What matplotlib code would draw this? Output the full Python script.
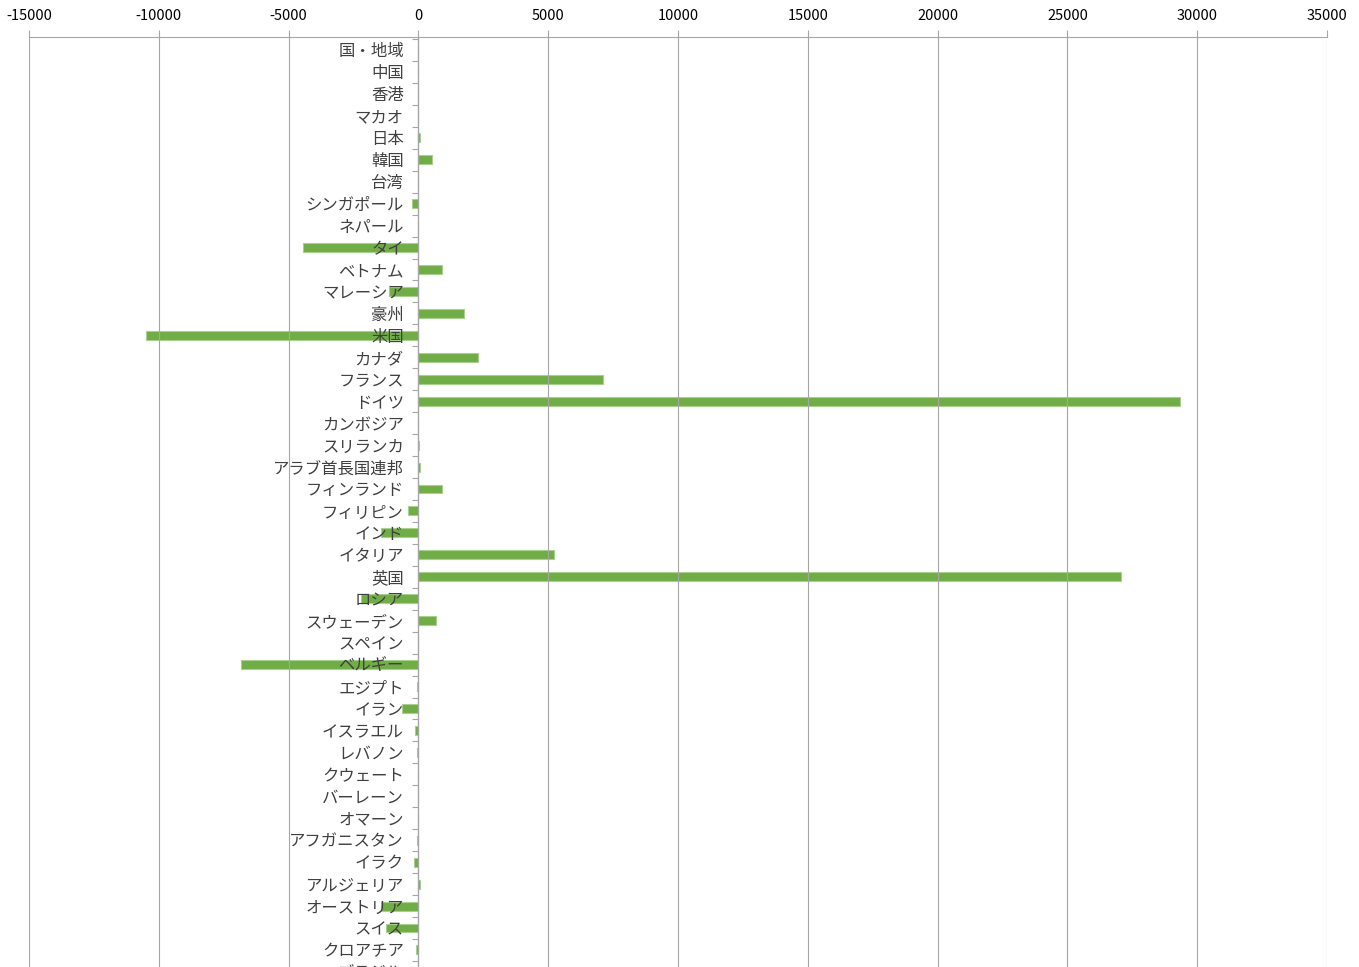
#!/usr/bin/env python3
"""Horizontal bar chart by country/region (Japanese labels), Excel style."""

import numpy as np
import matplotlib
matplotlib.use('Agg')
import matplotlib.pyplot as plt
from matplotlib.ticker import MultipleLocator, FixedLocator

plt.rcParams['font.family'] = ['Noto Sans CJK JP', 'DejaVu Sans']
plt.rcParams['axes.unicode_minus'] = False

# ── Data ────────────────────────────────────────────────────────────
countries = ['国・地域', '中国', '香港', 'マカオ', '日本', '韓国', '台湾', 'シンガポール',
             'ネパール', 'タイ', 'ベトナム', 'マレーシア', '豪州', '米国', 'カナダ',
             'フランス', 'ドイツ', 'カンボジア', 'スリランカ', 'アラブ首長国連邦',
             'フィンランド', 'フィリピン', 'インド', 'イタリア', '英国', 'ロシア',
             'スウェーデン', 'スペイン', 'ベルギー', 'エジプト', 'イラン', 'イスラエル',
             'レバノン', 'クウェート', 'バーレーン', 'オマーン', 'アフガニスタン', 'イラク',
             'アルジェリア', 'オーストリア', 'スイス', 'クロアチア', 'ブラジル']
values = [0, 0, 0, 0, 50, 510, 0, -240,
          0, -4450, 920, -1115, 1760, -10500, 2310,
          7115, 29350, 0, 10, 80,
          920, -385, -1435, 5230, 27070, -2200,
          680, 0, -6850, -40, -640, -130,
          -50, -20, -10, 0, -40, -180,
          60, -1435, -1245, -80, 0]

X_MIN, X_MAX, X_STEP = -15000, 35000, 5000

GREEN = '#70AD47'
GRID = '#A6A6A6'
TEXT = '#404040'


def main():
    n = len(countries)
    fig = plt.figure(figsize=(13.59, 9.67), dpi=100)
    # plot area runs past the bottom edge (the original is a crop)
    top_px, row_px, first_px = 37, 21.95, 50
    y_top = (top_px - first_px) / row_px
    y_bot = n + 0.5
    bot_px = first_px + row_px * y_bot
    ax = fig.add_axes([29 / 1359, 1 - bot_px / 967, (1327 - 29) / 1359,
                       (bot_px - top_px) / 967])

    y = np.arange(n)
    ax.barh(y, values, height=0.41, color=GREEN, edgecolor='#A9D18E',
            linewidth=0.8, zorder=1)
    ax.set_axisbelow(False)  # labels and grid drawn over the bars

    ax.set_xlim(X_MIN, X_MAX)
    ax.set_ylim(y_bot, y_top)

    # top value axis
    ax.xaxis.tick_top()
    ax.xaxis.set_major_locator(MultipleLocator(X_STEP))
    ax.tick_params(axis='x', which='major', direction='out', length=5,
                   width=0.8, color=GRID, pad=5, labelsize=10.5, labelcolor='black')
    ax.grid(axis='x', color=GRID, linewidth=0.8)

    # category axis sitting on zero
    ax.spines['left'].set_position(('data', 0))
    ax.spines['left'].set_color(GRID)
    ax.spines['left'].set_linewidth(0.9)
    ax.spines['top'].set_color(GRID)
    ax.spines['top'].set_linewidth(0.8)
    ax.spines['right'].set_visible(False)
    ax.spines['bottom'].set_visible(False)

    ax.set_yticks(y)
    ax.set_yticklabels(countries)
    ax.yaxis.set_minor_locator(FixedLocator(np.arange(-0.5, n + 0.5, 1)))
    ax.tick_params(axis='y', which='major', length=0, pad=10.5,
                   labelsize=11.8, labelcolor=TEXT)
    ax.tick_params(axis='y', which='minor', direction='out', length=4,
                   width=0.8, color=GRID)

    fig.savefig('out.png', dpi=100, facecolor='white')
    plt.close(fig)


if __name__ == '__main__':
    main()
